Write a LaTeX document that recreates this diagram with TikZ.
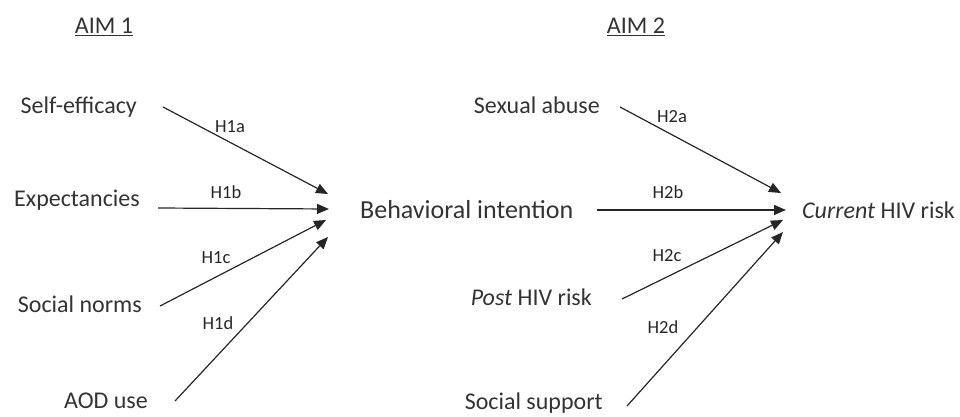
\documentclass[tikz,border=0pt]{standalone}
\usepackage{fontspec}
\setmainfont{Carlito}
\usetikzlibrary{arrows.meta}
\begin{document}
\begin{tikzpicture}[x=1pt,y=-1pt,
  lbl/.style={inner sep=0pt,font=\fontsize{24}{28}\selectfont,text=black!80},
  hyp/.style={inner sep=0pt,font=\fontsize{18.5}{22}\selectfont,text=black!85},
  arr/.style={line width=1.2pt,draw=black!85,-{Triangle[length=12pt,width=10pt]}}]
\useasboundingbox (0,0) rectangle (960,417);
% titles
\node[lbl] (aim1) at (104,27) {\underline{AIM 1}};
\node[lbl] (aim2) at (636,27) {\underline{AIM 2}};
% aim 1 nodes
\node[lbl,anchor=east] (se) at (137,107) {Self-efficacy};
\node[lbl,anchor=east] (ex) at (140,200) {Expectancies};
\node[lbl,anchor=east] (sn) at (142,304) {Social norms};
\node[lbl,anchor=east] (aod) at (148,401) {AOD use};
\node[lbl,anchor=west,font=\fontsize{26}{30}\selectfont] (bi) at (360,210) {Behavioral intention};
% aim 2 nodes
\node[lbl,anchor=east] (sa) at (600,105) {Sexual abuse};
\node[lbl,anchor=east] (ph) at (592,297) {\textit{Post} HIV risk};
\node[lbl,anchor=east] (ss) at (603,403) {Social support};
\node[lbl,anchor=west] (cr) at (802,210) {\textit{Current} HIV risk};
% arrow tips
\coordinate (t1a) at (328,194);
\coordinate (t1b) at (329,209);
\coordinate (t1c) at (326,220);
\coordinate (t1d) at (328,237);
\coordinate (t2a) at (781,193);
\coordinate (t2b) at (786,210);
\coordinate (t2c) at (783,220);
\coordinate (t2d) at (783,232);
% arrows aim 1
\draw[arr] ([xshift=26pt]se.east) -- (t1a);
\draw[arr] ([xshift=18pt,yshift=-8pt]ex.east) -- (t1b);
\draw[arr] ([xshift=18pt,yshift=-2pt]sn.east) -- (t1c);
\draw[arr] ([xshift=27pt]aod.east) -- (t1d);
% arrows aim 2
\draw[arr] ([xshift=20pt,yshift=-2pt]sa.east) -- (t2a);
\draw[arr] ([xshift=24pt]bi.east) -- (t2b);
\draw[arr] ([xshift=30pt,yshift=-2pt]ph.east) -- (t2c);
\draw[arr] ([xshift=24pt,yshift=-3pt]ss.east) -- (t2d);
% hypothesis labels
\node[hyp] (h1a) at (230,127) {H1a};
\node[hyp] (h1b) at (226,192) {H1b};
\node[hyp] (h1c) at (216,258) {H1c};
\node[hyp] (h1d) at (218,323) {H1d};
\node[hyp] (h2a) at (672,117) {H2a};
\node[hyp] (h2b) at (668,192) {H2b};
\node[hyp] (h2c) at (667,256) {H2c};
\node[hyp] (h2d) at (663,327) {H2d};
\end{tikzpicture}
\end{document}
